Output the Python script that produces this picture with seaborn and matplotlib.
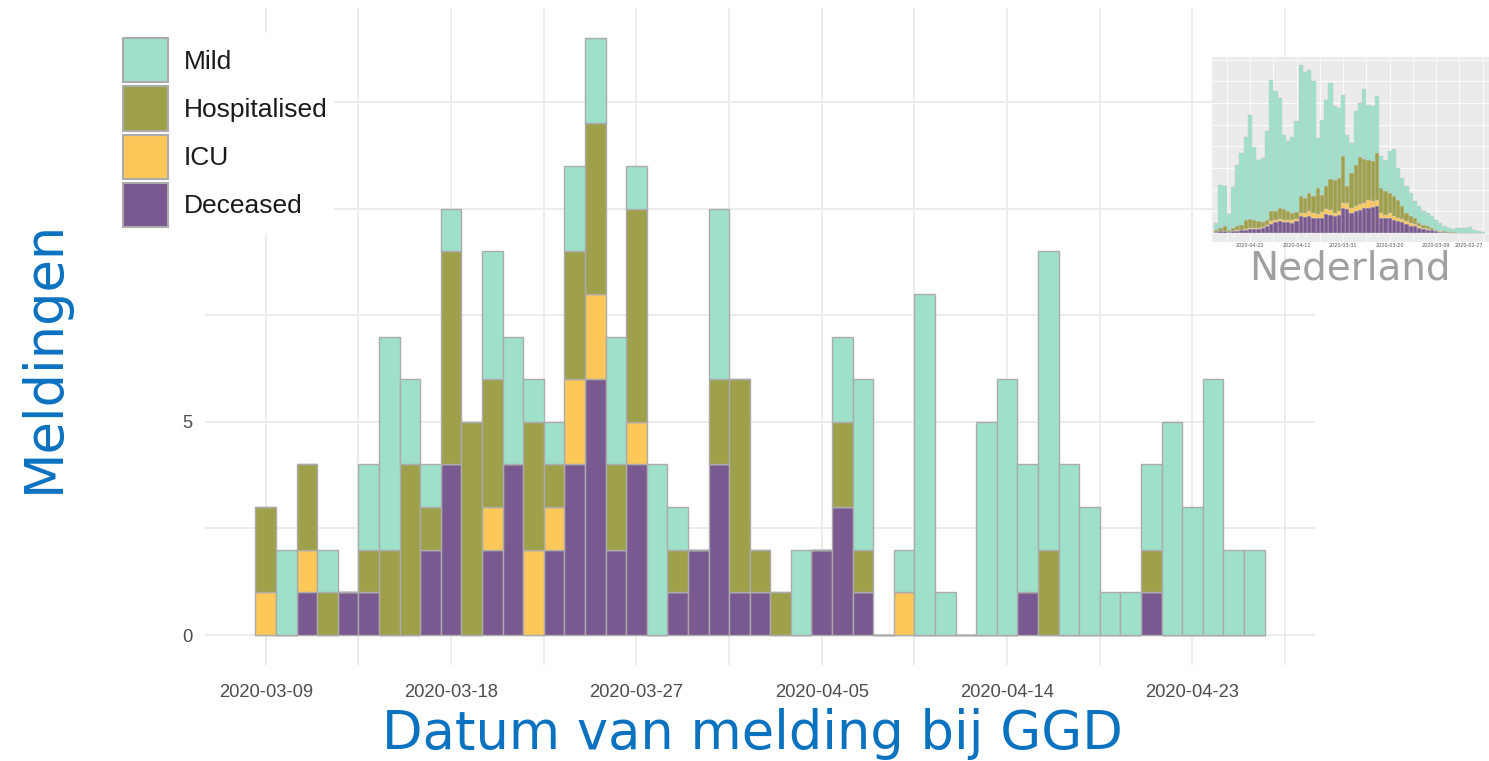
import numpy as np
import pandas as pd
import matplotlib
matplotlib.use("Agg")
import matplotlib.pyplot as plt
import matplotlib.dates as mdates
from matplotlib.patches import Patch
from matplotlib.ticker import FixedLocator
import seaborn as sns

# Regional reports per day (GGD), 2020-03-09 .. 2020-04-26
start_date = "2020-03-09"
status_order = ["Mild", "Hospitalised", "ICU", "Deceased"]
mild = [0, 2, 0, 1, 0, 2, 5, 2, 1, 1, 0, 3, 3, 1, 1, 2, 2, 3, 1, 4,
        1, 0, 4, 0, 0, 0, 2, 0, 2, 4, 0, 1, 8, 1, 0, 5, 6, 3, 7, 4,
        3, 1, 1, 2, 5, 3, 6, 2, 2]
hospitalised = [2, 0, 2, 1, 0, 1, 2, 4, 1, 5, 5, 3, 0, 3, 1, 3, 4, 2, 5, 0,
                1, 0, 2, 5, 1, 1, 0, 0, 2, 1, 0, 0, 0, 0, 0, 0, 0, 0, 2, 0,
                0, 0, 0, 1, 0, 0, 0, 0, 0]
icu = [1, 0, 1, 0, 0, 0, 0, 0, 0, 0, 0, 1, 0, 2, 1, 2, 2, 0, 1, 0,
       0, 0, 0, 0, 0, 0, 0, 0, 0, 0, 0, 1, 0, 0, 0, 0, 0, 0, 0, 0,
       0, 0, 0, 0, 0, 0, 0, 0, 0]
deceased = [0, 0, 1, 0, 1, 1, 0, 0, 2, 4, 0, 2, 4, 0, 2, 4, 6, 2, 4, 0,
            1, 2, 4, 1, 1, 0, 0, 2, 3, 1, 0, 0, 0, 0, 0, 0, 0, 1, 0, 0,
            0, 0, 0, 1, 0, 0, 0, 0, 0]
x_tick_labels = ["2020-03-09", "2020-03-18", "2020-03-27", "2020-04-05", "2020-04-14", "2020-04-23"]
y_ticks = [0, 5, 10]
y_tick_labels = ["0", "5", ""]  # the "10" label is hidden behind the legend in the original

# Nederland inset (relative heights), 2020-02-27 .. 2020-04-30
nl_start = "2020-02-27"
nl_mild = [2, 5, 8, 18, 15, 15, 14, 10, 13, 17, 23, 30, 35, 40, 40, 50, 50, 70, 80, 83,
           95, 142, 125, 95, 95, 172, 165, 165, 210, 162, 160, 90, 155, 185, 210, 220, 288, 260, 225, 150,
           343, 370, 377, 395, 273, 228, 210, 223, 330, 360, 395, 265, 193, 185, 217, 313, 250, 215, 183, 123,
           48, 120, 130, 20]
nl_hospitalised = [0, 0, 0, 0, 0, 0, 1, 1, 1, 2, 2, 3, 5, 8, 10, 10, 17, 20, 25, 40,
                   55, 58, 60, 70, 75, 140, 120, 120, 132, 140, 125, 105, 50, 140, 98, 100, 92, 68, 53, 77,
                   52, 55, 45, 50, 20, 22, 27, 32, 33, 25, 30, 16, 14, 19, 25, 27, 25, 15, 13, 10,
                   6, 15, 10, 8]
nl_icu = [0, 0, 0, 0, 0, 0, 0, 0, 0, 0, 1, 1, 2, 2, 3, 5, 8, 8, 7, 10,
          10, 12, 15, 10, 15, 20, 17, 25, 15, 18, 15, 15, 18, 15, 12, 10, 15, 14, 17, 13,
          15, 15, 13, 10, 7, 8, 6, 8, 7, 8, 7, 4, 3, 3, 3, 3, 3, 2, 2, 0,
          0, 0, 0, 0]
nl_deceased = [0, 0, 0, 0, 0, 0, 0, 1, 1, 3, 4, 6, 8, 10, 12, 15, 20, 22, 28, 32,
               35, 40, 45, 45, 45, 80, 78, 75, 75, 70, 65, 60, 72, 75, 55, 50, 55, 58, 45, 45,
               45, 50, 47, 50, 35, 30, 32, 32, 35, 32, 28, 20, 15, 13, 12, 12, 10, 8, 7, 5,
               4, 5, 5, 2]
nl_tick_labels = ["2020-02-27", "2020-03-09", "2020-03-20", "2020-03-31", "2020-04-11", "2020-04-22"]

palette = {"Mild": "#9FE0CB", "Hospitalised": "#9FA04A", "ICU": "#FCC85A", "Deceased": "#7A5890"}


def long_table(start, series):
    days = mdates.date2num(pd.date_range(start, periods=len(series[0]), freq="D"))
    return pd.DataFrame({
        "day": np.tile(days, len(series)),
        "status": np.repeat(status_order, len(days)),
        "count": np.concatenate(series),
    })


sns.set_style("white")
plt.rcParams["font.family"] = ["DejaVu Sans"]

fig = plt.figure(figsize=(14.89, 7.61), dpi=100)
ax = fig.add_axes([205 / 1489, 96 / 761, 1110 / 1489, 657 / 761])

df = long_table(start_date, [mild, hospitalised, icu, deceased])
sns.histplot(data=df, x="day", weights="count", hue="status", hue_order=status_order,
             multiple="stack", discrete=True, palette=palette, alpha=1,
             edgecolor="#ABABAB", linewidth=1.0, legend=False, ax=ax)

# ggplot-like limits (5% expansion)
lo, hi = df["day"].min() - 0.5, df["day"].max() + 0.5
pad = 0.05 * (hi - lo)
ax.set_xlim(lo - pad, hi + pad)
top = (np.array(mild) + np.array(hospitalised) + np.array(icu) + np.array(deceased)).max()
ax.set_ylim(-0.05 * top, 1.05 * top)

xt = mdates.date2num(pd.to_datetime(x_tick_labels))
ax.set_xticks(xt)
ax.set_xticklabels(x_tick_labels)
step = xt[1] - xt[0]
ax.xaxis.set_minor_locator(FixedLocator(np.arange(xt[0] - step / 2, xt[-1] + step, step)))
ax.set_yticks(y_ticks)
ax.set_yticklabels(y_tick_labels)
ax.yaxis.set_minor_locator(FixedLocator([v + 2.5 for v in y_ticks]))
ax.grid(which="both", color="#EBEBEB", linewidth=1.3)
ax.set_axisbelow(True)
for s in ax.spines.values():
    s.set_visible(False)
ax.tick_params(which="both", length=0)
ax.tick_params(axis="x", pad=14)
ax.tick_params(axis="y", pad=9)
for lab in ax.get_xticklabels() + ax.get_yticklabels():
    lab.set_family("Liberation Sans")
    lab.set_fontsize(13.2)
    lab.set_color("#4D4D4D")

ax.set_xlabel("Datum van melding bij GGD", fontsize=38, color="#0B72C0")
ax.set_ylabel("Meldingen", fontsize=38, color="#0B72C0")
ax.xaxis.set_label_coords(0.493, -0.066)
ax.yaxis.set_label_coords(-0.1216, 0.469)

# legend sits on a white box over the plot area, like the original
handles = [Patch(facecolor=palette[s], edgecolor="#ABABAB", linewidth=1.5) for s in status_order]
fig.legend(handles, status_order, loc="upper left", bbox_to_anchor=(118 / 1489, 1 - 33 / 761),
           frameon=True, facecolor="white", edgecolor="white", framealpha=1, fancybox=False,
           prop={"family": "Liberation Sans", "size": 19}, labelcolor="#1A1A1A",
           handlelength=1.7, handleheight=2.2, labelspacing=0.15, handletextpad=0.6,
           borderpad=0.2, borderaxespad=0)

# Inset: Nederland
ins = fig.add_axes([1212 / 1489, 519 / 761, 277 / 1489, 185 / 761])
ins.set_facecolor("#EBEBEB")
nl = long_table(nl_start, [nl_mild, nl_hospitalised, nl_icu, nl_deceased])
sns.histplot(data=nl, x="day", weights="count", hue="status", hue_order=status_order,
             multiple="stack", discrete=True, palette=palette, alpha=1,
             edgecolor="#C8C8C8", linewidth=0.3, legend=False, ax=ins)
ins.set_xlim(nl["day"].max() + 1.0, nl["day"].min() - 1.5)
ins.set_ylim(-27, 528)
nt = mdates.date2num(pd.to_datetime(nl_tick_labels))
ins.set_xticks(nt)
ins.set_xticklabels(nl_tick_labels, fontsize=3.5, color="#555555")
ins.get_xticklabels()[0].set_ha("right")
ins.xaxis.set_minor_locator(FixedLocator(nt + (nt[1] - nt[0]) / 2))
ins.set_yticks(np.arange(0, 528, 65))
ins.set_yticklabels([])
ins.grid(which="both", color="white", linewidth=0.6)
ins.set_axisbelow(True)
for s in ins.spines.values():
    s.set_visible(False)
ins.tick_params(which="both", length=0, pad=1)
ins.set_xlabel("")
ins.set_ylabel("")

fig.text(1350 / 1489, 1 - 268 / 761, "Nederland", fontsize=28, color="#A0A0A0",
         ha="center", va="center")

fig.savefig("out.png", dpi=100)
